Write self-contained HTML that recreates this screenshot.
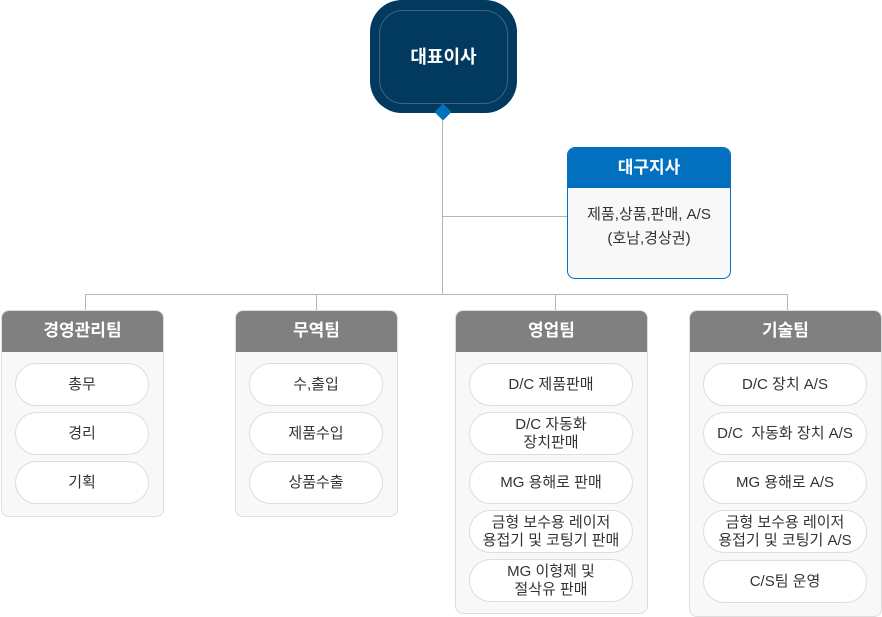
<!DOCTYPE html>
<html><head><meta charset="utf-8"><style>
body{margin:0;width:882px;height:617px;background:#fff;position:relative;overflow:hidden;font-family:"Liberation Sans","Noto Sans CJK KR",sans-serif}
.a{position:absolute;box-sizing:border-box}
.ln{position:absolute;background:#b5b5b5}
.team{position:absolute;box-sizing:border-box;border:1px solid #ddd;border-radius:8px;background:#f8f8f8;overflow:hidden}
.th{height:41px;background:#808080;color:#fff;font-weight:bold;font-size:17px;text-align:center;line-height:40px}
.pill{position:absolute;box-sizing:border-box;border:1px solid #ddd;border-radius:22px;background:#fff;height:43px;display:flex;align-items:center;justify-content:center;text-align:center;font-size:15px;color:#333;line-height:18px;white-space:nowrap}
</style></head><body>
<div class="ln" style="left:442px;top:112px;width:1px;height:183px"></div>
<div class="ln" style="left:443px;top:216px;width:124px;height:1px"></div>
<div class="ln" style="left:85px;top:294px;width:703px;height:1px"></div>
<div class="ln" style="left:85px;top:294px;width:1px;height:16px"></div>
<div class="ln" style="left:316px;top:294px;width:1px;height:16px"></div>
<div class="ln" style="left:555px;top:294px;width:1px;height:16px"></div>
<div class="ln" style="left:787px;top:294px;width:1px;height:16px"></div>

<div class="a" style="left:370px;top:0;width:147px;height:113px;background:#023a5f;border-radius:32px"></div>
<div class="a" style="left:379px;top:10px;width:129px;height:94px;border:1px solid #3e6482;border-radius:24px;color:#fff;font-weight:bold;font-size:18px;text-align:center;line-height:92px">대표이사</div>
<div class="a" style="left:437px;top:106px;width:12px;height:12px;background:#0072bc;transform:rotate(45deg)"></div>

<div class="a" style="left:567px;top:147px;width:164px;height:132px;border:1px solid #0070bf;border-radius:8px;background:#f8f8f8;overflow:hidden">
<div style="height:40px;background:#0070bf;color:#fff;font-weight:bold;font-size:17px;text-align:center;line-height:40px">대구지사</div>
<div style="text-align:center;font-size:15px;color:#333;line-height:24px;padding-top:15px">제품,상품,판매, A/S<br>(호남,경상권)</div>
</div>

<div class="team" style="left:1px;top:310px;width:163px;height:207px"><div class="th">경영관리팀</div></div>
<div class="pill" style="left:15px;top:363px;width:134px">총무</div>
<div class="pill" style="left:15px;top:412px;width:134px">경리</div>
<div class="pill" style="left:15px;top:461px;width:134px">기획</div>

<div class="team" style="left:235px;top:310px;width:163px;height:207px"><div class="th">무역팀</div></div>
<div class="pill" style="left:249px;top:363px;width:134px">수,출입</div>
<div class="pill" style="left:249px;top:412px;width:134px">제품수입</div>
<div class="pill" style="left:249px;top:461px;width:134px">상품수출</div>

<div class="team" style="left:455px;top:310px;width:193px;height:304px"><div class="th">영업팀</div></div>
<div class="pill" style="left:469px;top:363px;width:164px">D/C 제품판매</div>
<div class="pill" style="left:469px;top:412px;width:164px">D/C 자동화<br>장치판매</div>
<div class="pill" style="left:469px;top:461px;width:164px">MG 용해로 판매</div>
<div class="pill" style="left:469px;top:510px;width:164px">금형 보수용 레이저<br>용접기 및 코팅기 판매</div>
<div class="pill" style="left:469px;top:559px;width:164px">MG 이형제 및<br>절삭유 판매</div>

<div class="team" style="left:689px;top:310px;width:193px;height:307px"><div class="th">기술팀</div></div>
<div class="pill" style="left:703px;top:363px;width:164px">D/C 장치 A/S</div>
<div class="pill" style="left:703px;top:412px;width:164px">D/C &nbsp;자동화 장치 A/S</div>
<div class="pill" style="left:703px;top:461px;width:164px">MG 용해로 A/S</div>
<div class="pill" style="left:703px;top:510px;width:164px">금형 보수용 레이저<br>용접기 및 코팅기 A/S</div>
<div class="pill" style="left:703px;top:560px;width:164px">C/S팀 운영</div>
</body></html>
